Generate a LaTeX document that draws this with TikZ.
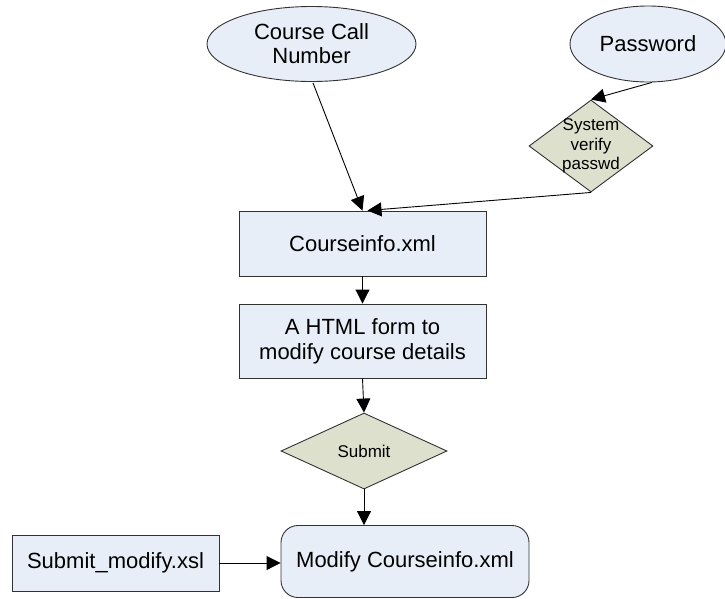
\documentclass[tikz,border=0pt]{standalone}
\usepackage{fontspec}
\setmainfont{Liberation Sans}
\usetikzlibrary{shapes.geometric,arrows.meta,calc}
\definecolor{boxfill}{RGB}{232,238,248}
\definecolor{diafill}{RGB}{221,224,204}
\definecolor{edge}{RGB}{50,50,50}
\begin{document}
\begin{tikzpicture}[x=1pt,y=-1pt,
  base/.style={draw=edge,line width=0.9pt,inner sep=0pt,align=center,text=black},
  oval/.style={base,ellipse,fill=boxfill,font=\fontsize{22}{24}\selectfont},
  stepbox/.style={base,rectangle,fill=boxfill,font=\fontsize{22}{25}\selectfont},
  roundbox/.style={stepbox,rounded corners=17pt},
  dia/.style={base,diamond,fill=diafill},
  flow/.style={draw=black,line width=0.9pt,-{Triangle[length=14pt,width=14pt]}}]
\useasboundingbox (0,0) rectangle (725,598);
\node[oval,minimum width=209,minimum height=75] (ccn) at (311.5,44) {Course Call\\Number};
\node[oval,minimum width=156,minimum height=76] (pw) at (648,44) {Password};
\node[dia,minimum width=124,minimum height=92,
  label={[font=\fontsize{17}{19.5}\selectfont,align=center,inner sep=0pt]center:System\\verify\\passwd}] (sv) at (591,146) {};
\node[stepbox,minimum width=247,minimum height=65] (ci) at (362.5,243.5) {Courseinfo.xml};
\node[stepbox,minimum width=247,minimum height=74] (html) at (362.5,341) {A HTML form to\\modify course details};
\node[dia,minimum width=166,minimum height=76,font=\fontsize{17}{19}\selectfont] (sub) at (364,451) {Submit};
\node[roundbox,minimum width=248,minimum height=72] (mod) at (405,561.5) {Modify Courseinfo.xml};
\node[stepbox,minimum width=207,minimum height=56] (sm) at (115.5,563) {Submit\_modify.xsl};
\draw[flow] ($(ccn.south)+(1.5,1)$) -- (ci.north);
\draw[flow] (pw.-84) -- (sv.north);
\draw[flow] (sv.south) -- ($(ci.north)+(5,0)$);
\draw[flow] (ci.south) -- (html.north);
\draw[flow] (html.south) -- (sub.north);
\draw[flow] (sub.south) -- (sub.south |- mod.north);
\draw[flow] (sm.east) -- (sm.east -| mod.west);
\end{tikzpicture}
\end{document}
